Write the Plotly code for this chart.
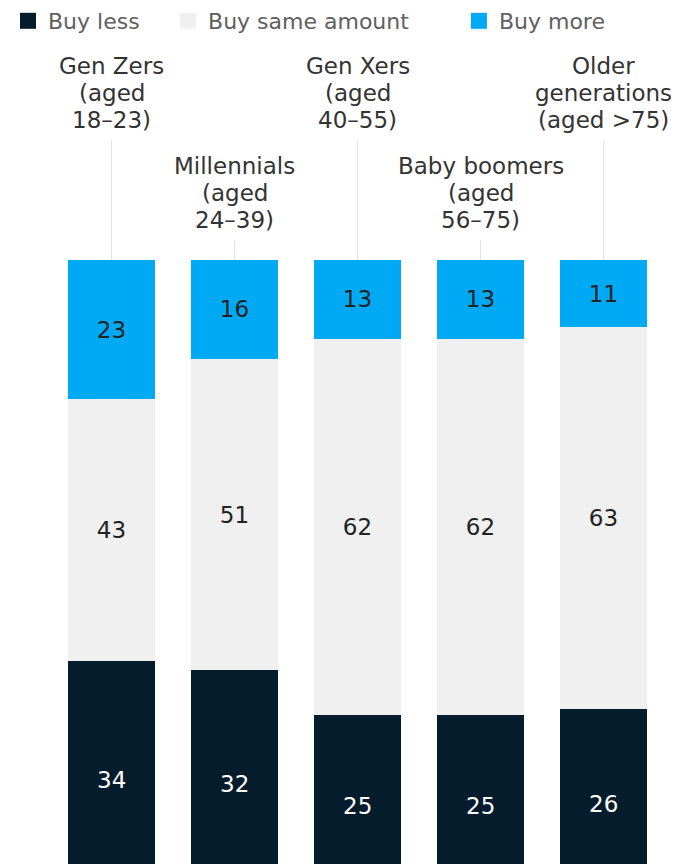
import plotly.graph_objects as go

category_lines = [
    ["Gen Zers", "(aged", "18–23)"],
    ["Millennials", "(aged", "24–39)"],
    ["Gen Xers", "(aged", "40–55)"],
    ["Baby boomers", "(aged", "56–75)"],
    ["Older", "generations", "(aged >75)"],
]
# shares in %, labels show the rounded values
buy_less = [33.8, 32.3, 25, 25, 25.9]
buy_same = [43.2, 51.4, 62, 62, 63]
buy_more = [23, 16.3, 13, 13, 11.1]
series_names = ["Buy less", "Buy same amount", "Buy more"]
colors = ["#051C2C", "#F0F0F0", "#00A9F4"]
text_colors = ["#FFFFFF", "#222222", "#222222"]

FONT = "DejaVu Sans"
x = list(range(len(category_lines)))

fig = go.Figure()
for k, (name, vals, col, tcol) in enumerate(zip(
        series_names, [buy_less, buy_same, buy_more], colors, text_colors)):
    fig.add_trace(go.Bar(
        x=x, y=vals, name=name, marker=dict(color=col, line=dict(width=0)),
        text=[f"{round(v)}" for v in vals],
        textposition="none" if k == 0 else "inside",
        insidetextanchor="middle", textangle=0,
        textfont=dict(family=FONT, size=23, color=tcol),
        hoverinfo="skip", showlegend=False,
    ))

# labels of the bottom segment (bars run past the bottom edge of the view)
for i, v in enumerate(buy_less):
    fig.add_annotation(x=i, y=v / 2, xref="x", yref="y", text=f"{round(v)}",
                       showarrow=False, yshift=-16,
                       font=dict(family=FONT, size=23, color=text_colors[0]))

# legend entries (one legend per item, placed independently)
legend_ids = ["legend", "legend2", "legend3"]
legend_x = [0.0, 0.2385, 0.672]
for name, col, lg in zip(series_names, colors, legend_ids):
    fig.add_trace(go.Scatter(
        x=[None], y=[None], mode="markers", name=name, legend=lg,
        marker=dict(symbol="square", size=19, color=col, line=dict(width=0)),
        hoverinfo="skip", showlegend=True,
    ))

legend_common = dict(orientation="h", xref="container", yref="container",
                     yanchor="middle", y=0.9848, xanchor="left",
                     font=dict(family=FONT, size=22, color="#606060"),
                     bgcolor="rgba(0,0,0,0)", itemclick=False,
                     itemdoubleclick=False, borderwidth=0)
fig.update_layout(**{lg: dict(x=lx, **legend_common)
                     for lg, lx in zip(legend_ids, legend_x)})

# category labels: line centres in pixels above the bar tops, last line
# carries the connector line down to the bar
high = [194, 167, 140]   # pixel offsets of line centres above bar top
low = [94, 67, 40]
offsets = [high, low, high, low, high]
for i, lines in enumerate(category_lines):
    offs = offsets[i]
    for j, line in enumerate(lines):
        common = dict(x=i, y=100, xref="x", yref="y", text=line,
                      font=dict(family=FONT, size=23, color="#333333"),
                      align="center")
        if j < len(lines) - 1:
            fig.add_annotation(showarrow=False, yanchor="middle",
                               yshift=offs[j], **common)
        else:
            fig.add_annotation(showarrow=True, arrowhead=0, arrowwidth=1,
                               arrowcolor="#E3E3E3", standoff=0,
                               startstandoff=6, ax=0, ay=-offs[j],
                               axref="pixel", ayref="pixel", **common)

fig.update_layout(
    width=671, height=856,
    margin=dict(l=42, r=14, t=252, b=0, pad=0, autoexpand=False),
    barmode="stack", bargap=0.285,
    plot_bgcolor="white", paper_bgcolor="white",
    xaxis=dict(visible=False, range=[-0.5, 4.5]),
    yaxis=dict(visible=False, range=[0.33, 100]),
)

fig.write_html("out.html")
